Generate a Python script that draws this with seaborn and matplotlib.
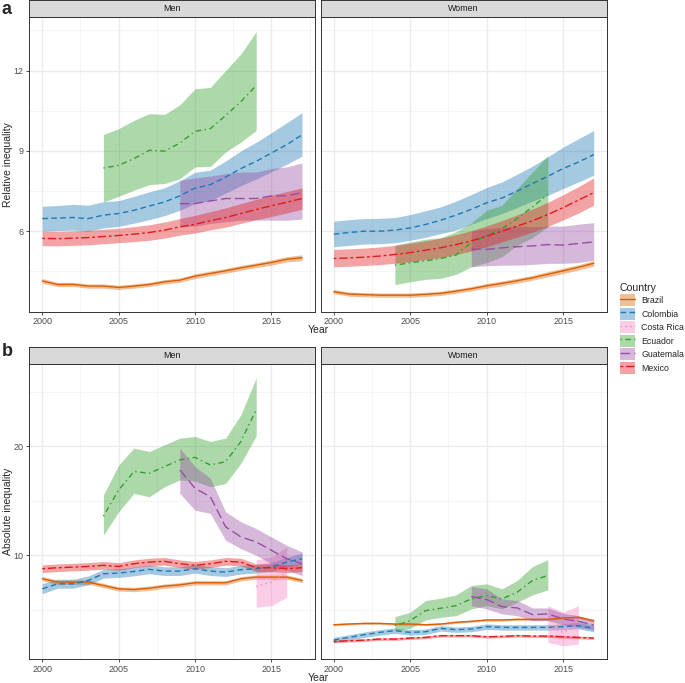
import pandas as pd
import matplotlib
matplotlib.use("Agg")
import matplotlib.pyplot as plt
import matplotlib.font_manager as fm
import seaborn as sns
from matplotlib.lines import Line2D
from matplotlib.patches import Patch

# ---- data ----
years = list(range(2000, 2018))
years_ecu = list(range(2004, 2015))
years_gua = list(range(2009, 2018))
years_cri = list(range(2014, 2017))

countries = ["Brazil", "Colombia", "Costa Rica", "Ecuador", "Guatemala", "Mexico"]

# relative inequality, men
rel_men_bra = [4.14, 4.01, 4.01, 3.95, 3.95, 3.90, 3.95, 4.01, 4.11, 4.17, 4.32, 4.42, 4.52, 4.63, 4.73, 4.83, 4.95, 5.01]
rel_men_bra_lo = [4.05, 3.93, 3.93, 3.87, 3.87, 3.82, 3.87, 3.93, 4.03, 4.09, 4.23, 4.33, 4.43, 4.54, 4.64, 4.73, 4.85, 4.90]
rel_men_bra_hi = [4.23, 4.09, 4.09, 4.03, 4.03, 3.98, 4.03, 4.09, 4.19, 4.25, 4.41, 4.51, 4.61, 4.72, 4.82, 4.93, 5.05, 5.12]
rel_men_col = [6.47, 6.49, 6.51, 6.47, 6.60, 6.66, 6.78, 6.94, 7.09, 7.32, 7.61, 7.74, 8.02, 8.34, 8.61, 8.92, 9.23, 9.60]
rel_men_col_lo = [6.00, 6.02, 6.04, 6.00, 6.12, 6.18, 6.30, 6.43, 6.58, 6.78, 7.03, 7.15, 7.42, 7.70, 7.95, 8.22, 8.50, 8.80]
rel_men_col_hi = [6.93, 6.96, 7.00, 6.97, 7.10, 7.14, 7.30, 7.47, 7.62, 7.88, 8.20, 8.28, 8.62, 9.00, 9.32, 9.68, 10.05, 10.43]
rel_men_ecu = [8.36, 8.46, 8.71, 9.02, 8.99, 9.29, 9.73, 9.83, 10.32, 10.84, 11.44]
rel_men_ecu_lo = [7.09, 7.30, 7.53, 7.74, 7.78, 7.96, 8.40, 8.42, 8.96, 9.33, 9.76]
rel_men_ecu_hi = [9.61, 9.83, 10.14, 10.39, 10.36, 10.72, 11.32, 11.37, 12.00, 12.62, 13.45]
rel_men_gua = [7.03, 7.03, 7.13, 7.22, 7.22, 7.22, 7.32, 7.32, 7.44]
rel_men_gua_lo = [6.16, 6.19, 6.29, 6.35, 6.41, 6.41, 6.41, 6.41, 6.45]
rel_men_gua_hi = [7.90, 7.99, 8.06, 8.15, 8.21, 8.21, 8.34, 8.40, 8.55]
rel_men_mex = [5.73, 5.72, 5.74, 5.76, 5.80, 5.84, 5.89, 5.95, 6.04, 6.16, 6.26, 6.39, 6.51, 6.66, 6.81, 6.95, 7.08, 7.22]
rel_men_mex_lo = [5.46, 5.45, 5.47, 5.49, 5.53, 5.57, 5.61, 5.66, 5.74, 5.85, 5.93, 6.05, 6.15, 6.29, 6.43, 6.55, 6.68, 6.82]
rel_men_mex_hi = [6.00, 5.99, 6.01, 6.03, 6.07, 6.11, 6.17, 6.24, 6.34, 6.47, 6.59, 6.73, 6.87, 7.03, 7.19, 7.35, 7.48, 7.62]

# relative inequality, women
rel_wom_bra = [3.74, 3.65, 3.63, 3.61, 3.61, 3.61, 3.64, 3.68, 3.76, 3.85, 3.96, 4.05, 4.15, 4.26, 4.39, 4.52, 4.65, 4.80]
rel_wom_bra_lo = [3.66, 3.57, 3.55, 3.53, 3.53, 3.53, 3.56, 3.60, 3.68, 3.77, 3.87, 3.96, 4.06, 4.17, 4.29, 4.42, 4.55, 4.69]
rel_wom_bra_hi = [3.82, 3.73, 3.71, 3.69, 3.69, 3.69, 3.72, 3.76, 3.84, 3.93, 4.05, 4.14, 4.24, 4.35, 4.49, 4.62, 4.75, 4.91]
rel_wom_col = [5.89, 5.95, 6.00, 6.00, 6.04, 6.12, 6.25, 6.41, 6.60, 6.82, 7.06, 7.24, 7.50, 7.78, 8.05, 8.34, 8.58, 8.86]
rel_wom_col_lo = [5.42, 5.47, 5.52, 5.53, 5.57, 5.66, 5.77, 5.91, 6.04, 6.26, 6.47, 6.66, 6.89, 7.12, 7.34, 7.59, 7.84, 8.09]
rel_wom_col_hi = [6.37, 6.43, 6.47, 6.48, 6.51, 6.62, 6.76, 6.91, 7.12, 7.37, 7.63, 7.84, 8.13, 8.43, 8.78, 9.14, 9.45, 9.76]
rel_wom_ecu = [4.73, 4.82, 4.89, 4.98, 5.11, 5.58, 5.83, 6.10, 6.47, 6.91, 7.37]
rel_wom_ecu_lo = [4.01, 4.11, 4.20, 4.24, 4.39, 4.67, 4.83, 5.04, 5.48, 5.76, 6.16]
rel_wom_ecu_hi = [5.48, 5.60, 5.70, 5.76, 5.98, 6.31, 6.78, 6.97, 7.59, 8.21, 8.82]
rel_wom_gua = [5.33, 5.32, 5.38, 5.42, 5.45, 5.50, 5.48, 5.54, 5.60]
rel_wom_gua_lo = [4.67, 4.71, 4.73, 4.73, 4.76, 4.80, 4.80, 4.83, 4.92]
rel_wom_gua_hi = [6.00, 6.10, 6.14, 6.19, 6.16, 6.19, 6.19, 6.26, 6.32]
rel_wom_mex = [4.98, 5.00, 5.03, 5.07, 5.13, 5.20, 5.29, 5.38, 5.50, 5.64, 5.81, 6.00, 6.19, 6.39, 6.62, 6.88, 7.16, 7.44]
rel_wom_mex_lo = [4.67, 4.69, 4.72, 4.75, 4.80, 4.86, 4.94, 5.02, 5.13, 5.26, 5.42, 5.60, 5.78, 5.97, 6.18, 6.42, 6.68, 6.97]
rel_wom_mex_hi = [5.32, 5.34, 5.37, 5.41, 5.47, 5.55, 5.64, 5.74, 5.87, 6.02, 6.20, 6.40, 6.61, 6.83, 7.08, 7.36, 7.66, 7.99]

# absolute inequality, men
abs_men_bra = [7.85, 7.54, 7.54, 7.54, 7.23, 6.92, 6.86, 6.98, 7.17, 7.29, 7.48, 7.48, 7.48, 7.85, 8.00, 8.00, 8.00, 7.69]
abs_men_bra_lo = [7.65, 7.34, 7.34, 7.34, 7.03, 6.72, 6.66, 6.78, 6.97, 7.09, 7.28, 7.28, 7.28, 7.65, 7.80, 7.80, 7.80, 7.49]
abs_men_bra_hi = [8.05, 7.74, 7.74, 7.74, 7.43, 7.12, 7.06, 7.18, 7.37, 7.49, 7.68, 7.68, 7.68, 8.05, 8.20, 8.20, 8.20, 7.89]
abs_men_col = [6.92, 7.38, 7.38, 7.69, 8.31, 8.37, 8.52, 8.71, 8.55, 8.55, 8.77, 8.55, 8.46, 8.68, 8.77, 8.92, 9.38, 9.69]
abs_men_col_lo = [6.47, 6.98, 6.98, 7.29, 7.91, 7.97, 8.12, 8.31, 8.15, 8.15, 8.37, 8.15, 8.06, 8.28, 8.37, 8.50, 8.95, 9.20]
abs_men_col_hi = [7.40, 7.80, 7.80, 8.10, 8.71, 8.77, 8.92, 9.11, 8.95, 8.95, 9.17, 8.95, 8.86, 9.08, 9.17, 9.35, 9.82, 10.20]
abs_men_cri = [7.14, 7.54, 8.46]
abs_men_cri_lo = [5.23, 5.38, 6.15]
abs_men_cri_hi = [9.60, 9.85, 10.77]
abs_men_ecu = [13.60, 16.00, 17.70, 17.54, 18.15, 18.77, 19.00, 18.30, 18.60, 20.46, 23.38]
abs_men_ecu_lo = [11.85, 14.00, 15.70, 15.38, 16.30, 16.92, 16.83, 16.30, 16.60, 18.46, 20.98]
abs_men_ecu_hi = [15.54, 18.30, 19.85, 19.54, 20.15, 20.77, 20.92, 20.46, 20.77, 22.92, 26.30]
abs_men_gua = [17.85, 16.15, 15.38, 12.62, 11.69, 11.23, 10.46, 9.69, 9.23]
abs_men_gua_lo = [15.69, 14.15, 13.85, 11.38, 10.62, 10.00, 9.23, 8.62, 8.15]
abs_men_gua_hi = [19.85, 18.15, 17.08, 14.00, 13.08, 12.46, 11.69, 10.92, 10.31]
abs_men_mex = [8.77, 8.86, 8.92, 8.98, 9.08, 8.98, 9.23, 9.38, 9.45, 9.23, 9.08, 9.23, 9.45, 9.38, 8.86, 8.86, 8.77, 8.86]
abs_men_mex_lo = [8.42, 8.51, 8.57, 8.63, 8.73, 8.63, 8.88, 9.03, 9.10, 8.88, 8.73, 8.88, 9.10, 9.03, 8.51, 8.51, 8.42, 8.51]
abs_men_mex_hi = [9.12, 9.21, 9.27, 9.33, 9.43, 9.33, 9.58, 9.73, 9.80, 9.58, 9.43, 9.58, 9.80, 9.73, 9.21, 9.21, 9.12, 9.21]

# absolute inequality, women
abs_wom_bra = [3.63, 3.69, 3.75, 3.75, 3.69, 3.69, 3.63, 3.69, 3.85, 3.94, 4.06, 4.06, 4.12, 4.12, 4.12, 4.25, 4.31, 4.00]
abs_wom_bra_lo = [3.53, 3.59, 3.65, 3.65, 3.59, 3.59, 3.53, 3.59, 3.75, 3.84, 3.96, 3.96, 4.02, 4.02, 4.02, 4.15, 4.21, 3.88]
abs_wom_bra_hi = [3.73, 3.79, 3.85, 3.85, 3.79, 3.79, 3.73, 3.79, 3.95, 4.04, 4.16, 4.16, 4.22, 4.22, 4.22, 4.35, 4.41, 4.12]
abs_wom_col = [2.22, 2.46, 2.71, 2.92, 3.08, 2.92, 2.98, 3.29, 3.17, 3.23, 3.45, 3.38, 3.38, 3.38, 3.38, 3.45, 3.54, 3.29]
abs_wom_col_lo = [1.97, 2.21, 2.46, 2.67, 2.83, 2.67, 2.73, 3.04, 2.92, 2.98, 3.20, 3.13, 3.13, 3.13, 3.13, 3.18, 3.25, 2.98]
abs_wom_col_hi = [2.47, 2.71, 2.96, 3.17, 3.33, 3.17, 3.23, 3.54, 3.42, 3.48, 3.70, 3.63, 3.63, 3.63, 3.63, 3.72, 3.83, 3.60]
abs_wom_cri = [3.54, 2.92, 3.54]
abs_wom_cri_lo = [2.00, 1.69, 1.85]
abs_wom_cri_hi = [5.38, 4.77, 5.38]
abs_wom_ecu = [3.54, 4.00, 4.92, 5.14, 5.38, 6.00, 6.31, 6.00, 6.62, 7.69, 8.15]
abs_wom_ecu_lo = [3.08, 3.29, 4.06, 4.31, 4.46, 5.08, 5.38, 5.08, 5.69, 6.37, 6.83]
abs_wom_ecu_hi = [4.37, 4.77, 5.85, 6.06, 6.37, 7.23, 7.38, 6.92, 7.69, 8.98, 9.60]
abs_wom_gua = [6.22, 5.94, 5.29, 5.17, 4.55, 4.62, 4.15, 3.94, 3.60]
abs_wom_gua_lo = [5.38, 5.08, 4.62, 4.46, 4.00, 4.00, 3.63, 3.38, 3.14]
abs_wom_gua_hi = [7.14, 6.92, 6.00, 5.85, 5.17, 5.17, 4.68, 4.46, 4.06]
abs_wom_mex = [2.09, 2.15, 2.21, 2.31, 2.31, 2.40, 2.46, 2.62, 2.62, 2.62, 2.52, 2.55, 2.62, 2.58, 2.58, 2.52, 2.46, 2.40]
abs_wom_mex_lo = [1.97, 2.03, 2.09, 2.19, 2.19, 2.28, 2.34, 2.50, 2.50, 2.50, 2.40, 2.43, 2.50, 2.46, 2.46, 2.40, 2.34, 2.28]
abs_wom_mex_hi = [2.21, 2.27, 2.33, 2.43, 2.43, 2.52, 2.58, 2.74, 2.74, 2.74, 2.64, 2.67, 2.74, 2.70, 2.70, 2.64, 2.58, 2.52]

# ---- styling ----
colors = {"Brazil": "#D95F02", "Colombia": "#1F78B4", "Costa Rica": "#F781BF",
          "Ecuador": "#33A02C", "Guatemala": "#984EA3", "Mexico": "#E31A1C"}
dashes = {"Brazil": "", "Colombia": (4, 2.5), "Costa Rica": (1, 2.5),
          "Ecuador": (1, 2.5, 4, 2.5), "Guatemala": (7, 3), "Mexico": (2, 2, 6, 2)}


def build(rows):
    frames = []
    for country, yrs, mid, lo, hi in rows:
        frames.append(pd.DataFrame({"Country": country, "Year": yrs, "val": mid, "lo": lo, "hi": hi}))
    return pd.concat(frames, ignore_index=True)


panels = {
    ("rel", "Men"): build([
        ("Brazil", years, rel_men_bra, rel_men_bra_lo, rel_men_bra_hi),
        ("Colombia", years, rel_men_col, rel_men_col_lo, rel_men_col_hi),
        ("Ecuador", years_ecu, rel_men_ecu, rel_men_ecu_lo, rel_men_ecu_hi),
        ("Guatemala", years_gua, rel_men_gua, rel_men_gua_lo, rel_men_gua_hi),
        ("Mexico", years, rel_men_mex, rel_men_mex_lo, rel_men_mex_hi)]),
    ("rel", "Women"): build([
        ("Brazil", years, rel_wom_bra, rel_wom_bra_lo, rel_wom_bra_hi),
        ("Colombia", years, rel_wom_col, rel_wom_col_lo, rel_wom_col_hi),
        ("Ecuador", years_ecu, rel_wom_ecu, rel_wom_ecu_lo, rel_wom_ecu_hi),
        ("Guatemala", years_gua, rel_wom_gua, rel_wom_gua_lo, rel_wom_gua_hi),
        ("Mexico", years, rel_wom_mex, rel_wom_mex_lo, rel_wom_mex_hi)]),
    ("abs", "Men"): build([
        ("Brazil", years, abs_men_bra, abs_men_bra_lo, abs_men_bra_hi),
        ("Colombia", years, abs_men_col, abs_men_col_lo, abs_men_col_hi),
        ("Costa Rica", years_cri, abs_men_cri, abs_men_cri_lo, abs_men_cri_hi),
        ("Ecuador", years_ecu, abs_men_ecu, abs_men_ecu_lo, abs_men_ecu_hi),
        ("Guatemala", years_gua, abs_men_gua, abs_men_gua_lo, abs_men_gua_hi),
        ("Mexico", years, abs_men_mex, abs_men_mex_lo, abs_men_mex_hi)]),
    ("abs", "Women"): build([
        ("Brazil", years, abs_wom_bra, abs_wom_bra_lo, abs_wom_bra_hi),
        ("Colombia", years, abs_wom_col, abs_wom_col_lo, abs_wom_col_hi),
        ("Costa Rica", years_cri, abs_wom_cri, abs_wom_cri_lo, abs_wom_cri_hi),
        ("Ecuador", years_ecu, abs_wom_ecu, abs_wom_ecu_lo, abs_wom_ecu_hi),
        ("Guatemala", years_gua, abs_wom_gua, abs_wom_gua_lo, abs_wom_gua_hi),
        ("Mexico", years, abs_wom_mex, abs_wom_mex_lo, abs_wom_mex_hi)]),
}

sns.set_theme(style="white")
# keep the regular Liberation Sans, not the Narrow cut that shares its name
fm.fontManager.ttflist = [f for f in fm.fontManager.ttflist if "Narrow" not in f.fname]
if hasattr(fm.fontManager, "_findfont_cached"):
    fm.fontManager._findfont_cached.cache_clear()
plt.rcParams["font.family"] = ["Liberation Sans", "DejaVu Sans"]

W, H = 685, 683
fig = plt.figure(figsize=(W / 100, H / 100), dpi=100)


def box(x0, y0, x1, y1):
    return [x0 / W, 1 - y1 / H, (x1 - x0) / W, (y1 - y0) / H]


cols = {"Men": (29.3, 315.0), "Women": (320.7, 606.7)}
rows = {"rel": (17.0, 311.5), "abs": (364.3, 659.3)}
ylims = {"rel": (3.0, 14.0), "abs": (0.45, 27.55)}
yticks = {"rel": [6, 9, 12], "abs": [10, 20]}
yminor = {"rel": [4.5, 7.5, 10.5, 13.5], "abs": [5, 15, 25]}
ylabels = {"rel": "Relative inequality", "abs": "Absolute inequality"}

for (kind, sex), df in panels.items():
    x0, x1 = cols[sex]
    y0, y1 = rows[kind]
    ax = fig.add_axes(box(x0, y0, x1, y1))
    for x in [2002.5, 2007.5, 2012.5, 2017.5]:
        ax.axvline(x, color="#F2F2F2", lw=0.5, zorder=0)
    for y in yminor[kind]:
        ax.axhline(y, color="#F2F2F2", lw=0.5, zorder=0)
    for x in [2000, 2005, 2010, 2015]:
        ax.axvline(x, color="#EBEBEB", lw=1.0, zorder=0)
    for y in yticks[kind]:
        ax.axhline(y, color="#EBEBEB", lw=1.0, zorder=0)

    for c in countries:
        sub = df[df["Country"] == c]
        if sub.empty:
            continue
        ax.fill_between(sub["Year"], sub["lo"], sub["hi"], color=colors[c],
                        alpha=0.4, lw=0, zorder=1)
    present = [c for c in countries if c in df["Country"].unique()]
    sns.lineplot(data=df, x="Year", y="val", hue="Country", style="Country",
                 hue_order=present, style_order=present,
                 palette=colors, dashes=dashes, estimator=None, lw=1.0,
                 legend=False, ax=ax, zorder=2)

    ax.set_xlim(1999.15, 2017.85)
    ax.set_ylim(*ylims[kind])
    ax.set_xticks([2000, 2005, 2010, 2015])
    ax.set_yticks(yticks[kind])
    ax.set_xlabel("")
    ax.set_ylabel("")
    ax.tick_params(axis="both", length=2.5, width=0.6, color="#333333",
                   labelsize=6.5, labelcolor="#4D4D4D", pad=1.8, bottom=True,
                   left=(sex == "Men"))
    if sex == "Women":
        ax.set_yticklabels([])
    for s in ax.spines.values():
        s.set_color("#333333")
        s.set_linewidth(0.7)

    strip = fig.add_axes(box(x0, y0 - 17.2, x1, y0))
    strip.set_facecolor("#D9D9D9")
    strip.set_xticks([])
    strip.set_yticks([])
    for s in strip.spines.values():
        s.set_color("#333333")
        s.set_linewidth(0.7)
    strip.text(0.5, 0.5, sex, ha="center", va="center", fontsize=6.4,
               color="#1A1A1A", transform=strip.transAxes)

    if sex == "Men":
        fig.text(8 / W, 1 - (y0 + y1) / 2 / H, ylabels[kind], rotation=90,
                 ha="center", va="center", fontsize=7.5)

fig.text(318 / W, 1 - 330 / H, "Year", ha="center", va="center", fontsize=7.5)
fig.text(318 / W, 1 - 678 / H, "Year", ha="center", va="center", fontsize=7.5)
fig.text(2 / W, 1 - 9 / H, "a", ha="left", va="center", fontsize=13, fontweight="bold")
fig.text(2 / W, 1 - 352 / H, "b", ha="left", va="center", fontsize=13, fontweight="bold")

handles = []
for c in countries:
    handles.append((Patch(facecolor=colors[c], alpha=0.4, lw=0),
                    Line2D([], [], color=colors[c], lw=1.0,
                           dashes=dashes[c] if dashes[c] else (None, None))))
leg = fig.legend(handles, countries, title="Country", loc="upper left",
                 bbox_to_anchor=(620 / W, 1 - 283 / H), frameon=False,
                 fontsize=6.3, title_fontsize=7.6, handlelength=1.7,
                 handleheight=1.75, labelspacing=0.16, handletextpad=0.75,
                 borderaxespad=0, borderpad=0)
leg._legend_box.align = "left"

fig.savefig("out.png", dpi=100)
